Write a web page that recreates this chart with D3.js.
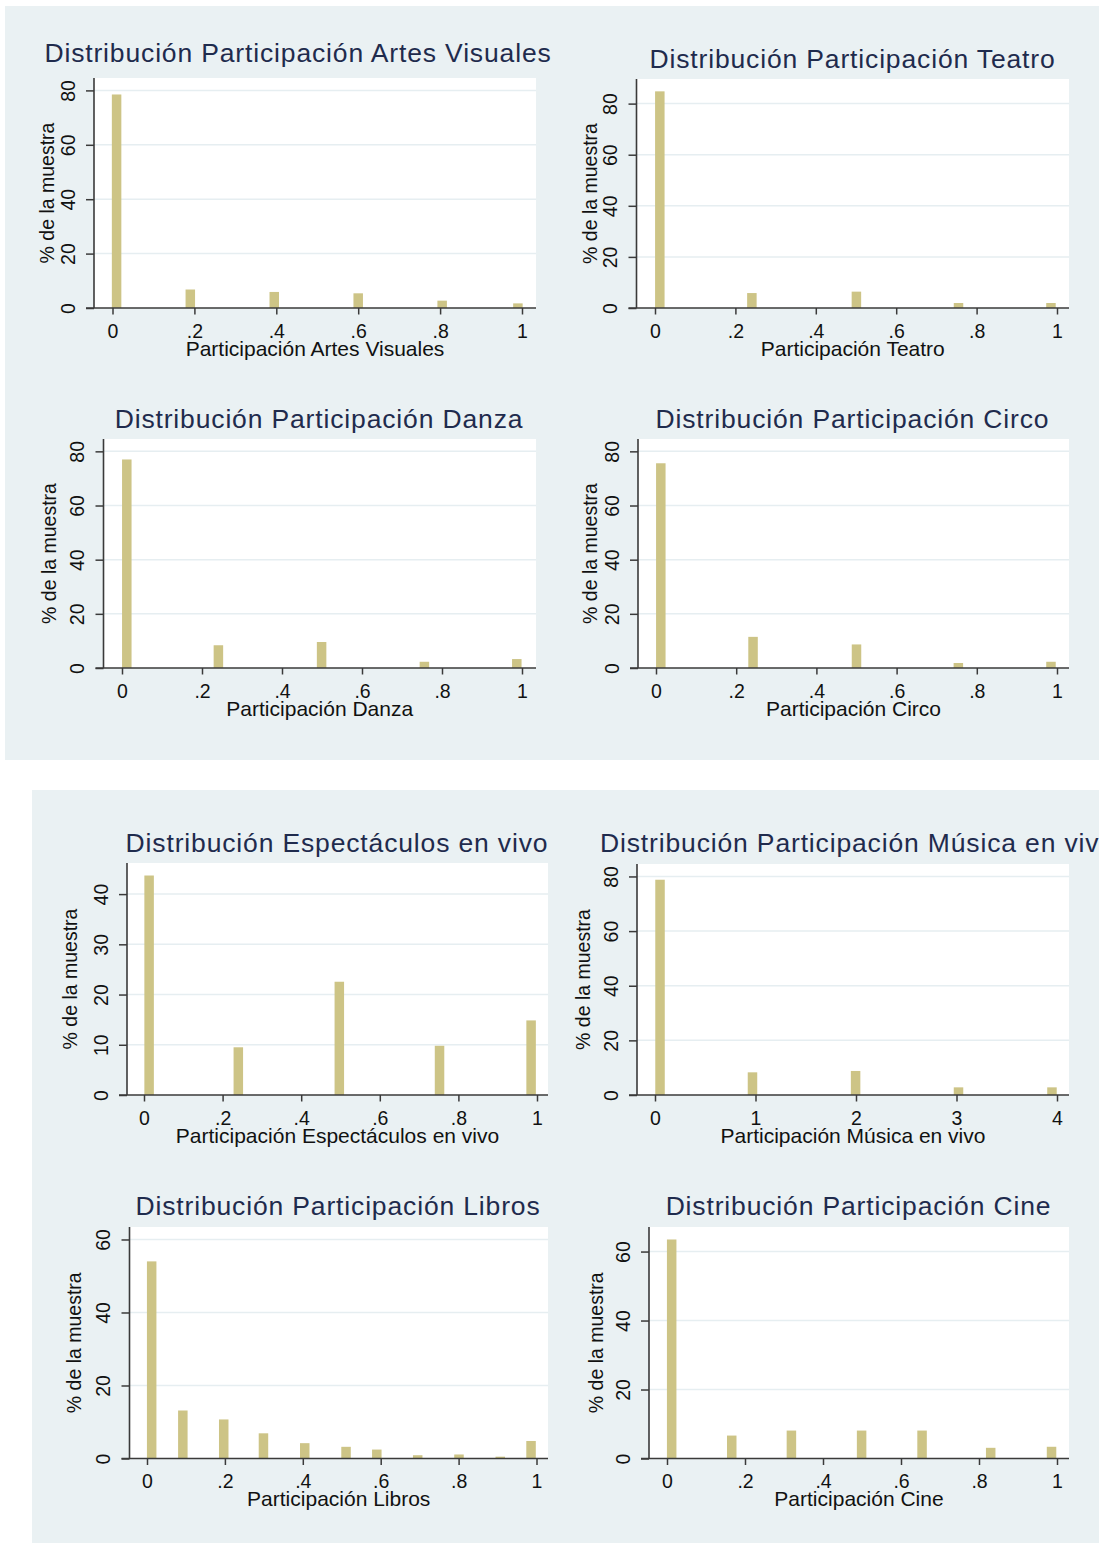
<!DOCTYPE html>
<html>
<head>
<meta charset="utf-8">
<script src="https://cdn.jsdelivr.net/npm/d3@7"></script>
<style>
  body { margin: 0; background: #fff; }
  svg text { font-family: "Liberation Sans", Arial, sans-serif; }
</style>
</head>
<body>
<div id="chart"></div>
<script>
// ---- data ----
const titles = [
  "Distribución Participación Artes Visuales",
  "Distribución Participación Teatro",
  "Distribución Participación Danza",
  "Distribución Participación Circo",
  "Distribución Espectáculos en vivo",
  "Distribución Participación Música en vivo",
  "Distribución Participación Libros",
  "Distribución Participación Cine"
];
const xTitles = [
  "Participación Artes Visuales",
  "Participación Teatro",
  "Participación Danza",
  "Participación Circo",
  "Participación Espectáculos en vivo",
  "Participación Música en vivo",
  "Participación Libros",
  "Participación Cine"
];
const yTitle = "% de la muestra";

const artesX = [0.01, 0.19, 0.395, 0.60, 0.805, 0.99];
const artesPct = [78.5, 6.8, 5.9, 5.4, 2.7, 1.7];
const teatroX = [0.012, 0.241, 0.501, 0.755, 0.985];
const teatroPct = [84.8, 5.85, 6.4, 1.95, 1.95];
const danzaX = [0.012, 0.241, 0.499, 0.756, 0.987];
const danzaPct = [77.0, 8.4, 9.6, 2.3, 3.3];
const circoX = [0.012, 0.242, 0.50, 0.754, 0.985];
const circoPct = [75.6, 11.5, 8.7, 1.85, 2.3];
const espectX = [0.013, 0.24, 0.497, 0.752, 0.985];
const espectPct = [43.7, 9.5, 22.55, 9.8, 14.85];
const musicaX = [0.05, 0.97, 1.996, 3.02, 3.95];
const musicaPct = [78.8, 8.3, 8.8, 2.8, 2.8];
const librosX = [0.012, 0.092, 0.197, 0.299, 0.405, 0.511, 0.59, 0.695, 0.801, 0.907, 0.986];
const librosPct = [54.0, 13.15, 10.7, 6.9, 4.2, 3.2, 2.45, 0.9, 1.1, 0.5, 4.8];
const cineX = [0.012, 0.166, 0.319, 0.499, 0.654, 0.83, 0.986];
const cinePct = [63.5, 6.65, 8.1, 8.1, 8.1, 3.1, 3.4];

const shareTicks = [0, 0.2, 0.4, 0.6, 0.8, 1];
const musicaTicks = [0, 1, 2, 3, 4];
const pctTicks80 = [0, 20, 40, 60, 80];
const pctTicks40 = [0, 10, 20, 30, 40];
const pctTicks60 = [0, 20, 40, 60];

// ---- layout ----
let width = 1099;
let height = 1543;
const bg = "#eaf1f3";
const barColor = "#cdc486";
const navy = "#1f2b4d";

// box = plot region [left, top, right, bottom], xr = pixel range of first/last x tick
const charts = [
  { xs: artesX, ys: artesPct, xt: shareTicks, yt: pctTicks80, box: [94, 78, 536, 308], xr: [112.5, 522], tx: 298, ty: 61.5, yx: 53.5 },
  { xs: teatroX, ys: teatroPct, xt: shareTicks, yt: pctTicks80, box: [636.5, 79, 1069, 308], xr: [655, 1057], tx: 852.5, ty: 67.5, yx: 597 },
  { xs: danzaX, ys: danzaPct, xt: shareTicks, yt: pctTicks80, box: [103.5, 439, 536, 668], xr: [122, 522], tx: 319, ty: 427.5, yx: 55.5 },
  { xs: circoX, ys: circoPct, xt: shareTicks, yt: pctTicks80, box: [638, 439, 1069, 668], xr: [656, 1057], tx: 852.5, ty: 427.5, yx: 597 },
  { xs: espectX, ys: espectPct, xt: shareTicks, yt: pctTicks40, box: [127, 863, 548, 1095], xr: [144, 537], tx: 337, ty: 851.5, yx: 77 },
  { xs: musicaX, ys: musicaPct, xt: musicaTicks, yt: pctTicks80, box: [637, 864, 1069, 1095], xr: [655, 1057], tx: 857.5, ty: 851.5, yx: 590 },
  { xs: librosX, ys: librosPct, xt: shareTicks, yt: pctTicks60, box: [129.5, 1227, 548, 1458.5], xr: [147, 536.5], tx: 338, ty: 1215, yx: 80.5 },
  { xs: cineX, ys: cinePct, xt: shareTicks, yt: pctTicks60, box: [649, 1227, 1069, 1458.5], xr: [667, 1057], tx: 858.5, ty: 1215, yx: 602.5 }
];

const fmt = d => d === 0 ? "0" : String(d).replace(/^0\./, ".");

let svg = d3.select("#chart")
  .append("svg")
  .attr("width", width)
  .attr("height", height);

svg.append("rect").attr("width", width).attr("height", height).attr("fill", "#fff");
// two graph panels
svg.append("rect").attr("x", 5).attr("y", 6).attr("width", 1094).attr("height", 754).attr("fill", bg);
svg.append("rect").attr("x", 32).attr("y", 790).attr("width", 1067).attr("height", 753).attr("fill", bg);

charts.forEach((c, i) => {
  let [left, top, right, bottom] = c.box;
  let g = svg.append("g");

  let xScale = d3.scaleLinear()
    .domain([c.xt[0], c.xt[c.xt.length - 1]])
    .range(c.xr);

  let yMax = Math.max(c.yt[c.yt.length - 1], d3.max(c.ys)) * 1.057;
  let yScale = d3.scaleLinear()
    .domain([0, yMax])
    .range([bottom, top]);

  // plot region
  g.append("rect")
    .attr("x", left).attr("y", top)
    .attr("width", right - left).attr("height", bottom - top)
    .attr("fill", "#fff");

  // gridlines
  g.selectAll(".grid")
    .data(c.yt.filter(d => d > 0))
    .enter().append("line")
    .attr("x1", left).attr("x2", right)
    .attr("y1", d => yScale(d)).attr("y2", d => yScale(d))
    .attr("stroke", "#e6eef1")
    .attr("stroke-width", 1.5);

  // bars
  let barW = 9.5;
  g.selectAll(".bar")
    .data(c.xs.map((x, k) => [x, c.ys[k]]))
    .enter().append("rect")
    .attr("x", d => xScale(d[0]) - barW / 2)
    .attr("y", d => yScale(d[1]))
    .attr("width", barW)
    .attr("height", d => bottom - yScale(d[1]))
    .attr("fill", barColor);

  // y axis
  let yAxis = d3.axisLeft(yScale).tickValues(c.yt).tickSize(8).tickFormat(fmt);
  let ya = g.append("g")
    .attr("transform", "translate(" + left + ",0)")
    .call(yAxis);
  ya.select(".domain").remove();
  ya.selectAll("line").attr("stroke", "#3a3a3a").attr("stroke-width", 1.5);
  ya.selectAll("text")
    .attr("x", 0).attr("y", -19.5).attr("dy", null)
    .attr("transform", "rotate(-90)")
    .style("text-anchor", "middle")
    .attr("fill", "#111")
    .attr("font-size", "19.5px");

  // x axis
  let xAxis = d3.axisBottom(xScale).tickValues(c.xt).tickSize(6.5).tickFormat(fmt);
  let xa = g.append("g")
    .attr("transform", "translate(0," + bottom + ")")
    .call(xAxis);
  xa.select(".domain").remove();
  xa.selectAll("line").attr("stroke", "#3a3a3a").attr("stroke-width", 1.5);
  xa.selectAll("text")
    .attr("y", 29.5).attr("dy", null)
    .attr("fill", "#111")
    .attr("font-size", "19.5px");

  // axis lines
  g.append("line")
    .attr("x1", left).attr("x2", left)
    .attr("y1", top).attr("y2", bottom)
    .attr("stroke", "#3a3a3a").attr("stroke-width", 1.6);
  g.append("line")
    .attr("x1", left - 8).attr("x2", right)
    .attr("y1", bottom).attr("y2", bottom)
    .attr("stroke", "#3a3a3a").attr("stroke-width", 1.6);

  // titles
  g.append("text")
    .attr("x", c.tx).attr("y", c.ty)
    .attr("text-anchor", "middle")
    .attr("font-size", "26.5px")
    .attr("letter-spacing", "0.85px")
    .attr("fill", navy)
    .text(titles[i]);

  g.append("text")
    .attr("x", (left + right) / 2).attr("y", bottom + 47.5)
    .attr("text-anchor", "middle")
    .attr("font-size", "21px")
    .attr("fill", "#111")
    .text(xTitles[i]);

  g.append("text")
    .attr("transform", "translate(" + c.yx + "," + (top + bottom) / 2 + ") rotate(-90)")
    .attr("text-anchor", "middle")
    .attr("font-size", "19.5px")
    .attr("fill", "#111")
    .text(yTitle);
});
</script>
</body>
</html>
